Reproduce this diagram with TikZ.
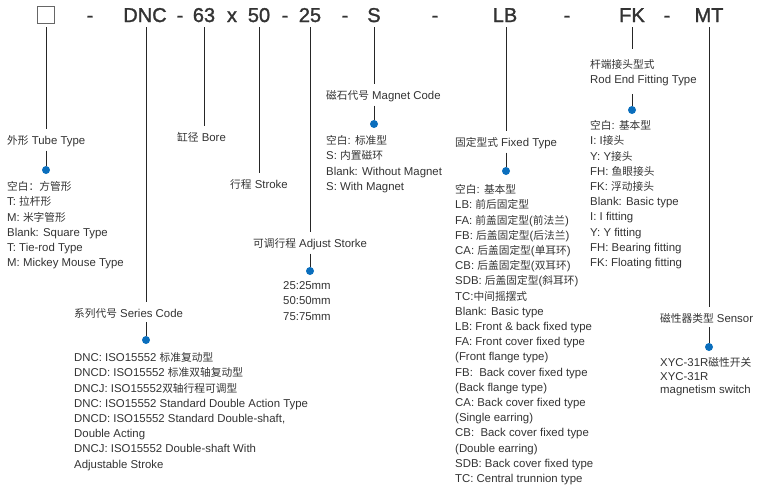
\documentclass[tikz,border=0pt]{standalone}
\usepackage{fontspec}
\setmainfont{Liberation Sans}
\newfontfamily\cjk[Scale=0.94]{Noto Sans CJK SC}
\newfontfamily\hdrfont[FakeBold=1.5]{Liberation Sans}
\newcommand\zh[1]{{\cjk #1}}
\usetikzlibrary{positioning}
\definecolor{txtgray}{HTML}{333333}
\definecolor{dotblue}{HTML}{0A6EBD}
\tikzset{
  hdr/.style={font=\hdrfont\fontsize{20}{20}\selectfont, text=txtgray, anchor=base, inner sep=0pt},
  lbl/.style={anchor=base west, inner sep=0pt, font=\fontsize{11.4}{15.2}\selectfont, text=txtgray},
  items/.style={anchor=north west, inner sep=0pt, align=left, font=\fontsize{11.4}{15.2}\selectfont, text=txtgray},
  pin/.style={circle, fill=dotblue, inner sep=0pt, minimum size=8pt},
  up/.style={draw=black!85, line width=0.8pt, shorten <=5pt, shorten >=6pt},
  down/.style={draw=black!85, line width=0.8pt, shorten <=4pt},
}

\begin{document}
\begin{tikzpicture}[x=1pt,y=-1pt]
\useasboundingbox (0,0) rectangle (760,490);

% order code
\node[draw=black!60, line width=0.8pt, minimum size=17pt, inner sep=0pt] (hbox) at (46,15) {};
\node[hdr] (d1) at (90,22) {-};
\node[hdr] (hdnc) at (145,22) {DNC};
\node[hdr] (d2) at (180,22) {-};
\node[hdr] (hbore) at (204,22) {63};
\node[hdr] (hx) at (232,22) {x};
\node[hdr] (hstroke) at (259,22) {50};
\node[hdr] (d3) at (285,22) {-};
\node[hdr] (hadj) at (310,22) {25};
\node[hdr] (d4) at (345,22) {-};
\node[hdr] (hmag) at (374,22) {S};
\node[hdr] (d5) at (435,22) {-};
\node[hdr] (hlb) at (505,22) {LB};
\node[hdr] (d6) at (567,22) {-};
\node[hdr] (hfk) at (632,22) {FK};
\node[hdr] (d7) at (667,22) {-};
\node[hdr] (hmt) at (709,22) {MT};

% labels
\node[lbl] (tube) at (7,144) {\zh{外形} Tube Type};
\node[lbl] (bore) at (177,141) {\zh{缸径} Bore};
\node[lbl] (stroke) at (230,188) {\zh{行程} Stroke};
\node[lbl] (series) at (74,317) {\zh{系列代号} Series Code};
\node[lbl] (adj) at (253,247) {\zh{可调行程} Adjust Storke};
\node[lbl] (mag) at (326,99) {\zh{磁石代号} Magnet Code};
\node[lbl] (fixed) at (455,146) {\zh{固定型式} Fixed Type};
\node[items] (rod) at (590,59) {\zh{杆端接头型式}\\Rod End Fitting Type};
\node[lbl] (sensor) at (660,322) {\zh{磁性器类型} Sensor};

% dots
\node[pin] (ptube) at (46,170) {};
\node[pin] (pseries) at (146,340) {};
\node[pin] (padj) at (310,271) {};
\node[pin] (pmag) at (374,124) {};
\node[pin] (pfixed) at (506,171) {};
\node[pin] (prod) at (632,110) {};
\node[pin] (psensor) at (709,347) {};

% lists
\node[items] (ltube) at (7,181.5) {\zh{空白：方管形}\\T: \zh{拉杆形}\\M: \zh{米字管形}\\Blank: Square Type\\T: Tie-rod Type\\M: Mickey Mouse Type};
\node[items] (lseries) at (74,352.5) {DNC: ISO15552 \zh{标准复动型}\\DNCD: ISO15552 \zh{标准双轴复动型}\\DNCJ: ISO15552\zh{双轴行程可调型}\\DNC: ISO15552 Standard Double Action Type\\DNCD: ISO15552 Standard Double-shaft,\\Double Acting\\DNCJ: ISO15552 Double-shaft With\\Adjustable Stroke};
\node[items] (ladj) at (283,281.5) {25:25mm\\50:50mm\\75:75mm};
\node[items] (lmag) at (326,135.5) {\zh{空白}: \zh{标准型}\\S: \zh{内置磁环}\\Blank: Without Magnet\\S: With Magnet};
\node[items] (lfixed) at (455,184.5) {\zh{空白}: \zh{基本型}\\LB: \zh{前后固定型}\\FA: \zh{前盖固定型}(\zh{前法兰})\\FB: \zh{后盖固定型}(\zh{后法兰})\\CA: \zh{后盖固定型}(\zh{单耳环})\\CB: \zh{后盖固定型}(\zh{双耳环})\\SDB: \zh{后盖固定型}(\zh{斜耳环})\\TC:\zh{中间摇摆式}\\Blank: Basic type\\LB: Front \& back fixed type\\FA: Front cover fixed type\\(Front flange type)\\FB:\ \ Back cover fixed type\\(Back flange type)\\CA: Back cover fixed type\\(Single earring)\\CB:\ \ Back cover fixed type\\(Double earring)\\SDB: Back cover fixed type\\TC: Central trunnion type};
\node[items] (lrod) at (590,120.5) {\zh{空白}: \zh{基本型}\\I: I\zh{接头}\\Y: Y\zh{接头}\\FH: \zh{鱼眼接头}\\FK: \zh{浮动接头}\\Blank: Basic type\\I: I fitting\\Y: Y fitting\\FH: Bearing fitting\\FK: Floating fitting};
\node[items, font=\fontsize{11.4}{13.5}\selectfont] (lsensor) at (660,357.5) {XYC-31R\zh{磁性开关}\\XYC-31R\\magnetism switch};

% leader lines
\draw[up, shorten <=3pt] (hbox.south) -- (hbox.south |- tube.north);
\draw[up] (hdnc.south -| pseries) -- (pseries |- series.north);
\draw[up] (hbore.south) -- (hbore.south |- bore.north);
\draw[up] (hstroke.south) -- (hstroke.south |- stroke.north);
\draw[up] (hadj.south) -- (hadj.south |- adj.north);
\draw[up] (hmag.south) -- (hmag.south |- mag.north);
\draw[up] (hlb.south -| pfixed) -- (pfixed |- fixed.north);
\draw[up, shorten >=10pt] (hfk.south) -- (hfk.south |- rod.north);
\draw[up] (hmt.south) -- (hmt.south |- sensor.north);

\draw[down] (tube.south -| ptube) -- (ptube);
\draw[down] (series.south -| pseries) -- (pseries);
\draw[down] (adj.south -| padj) -- (padj);
\draw[down] (mag.south -| pmag) -- (pmag);
\draw[down] (fixed.south -| pfixed) -- (pfixed);
\draw[down, shorten <=8pt] (rod.south -| prod) -- (prod);
\draw[down] (sensor.south -| psensor) -- (psensor);
\end{tikzpicture}
\end{document}
